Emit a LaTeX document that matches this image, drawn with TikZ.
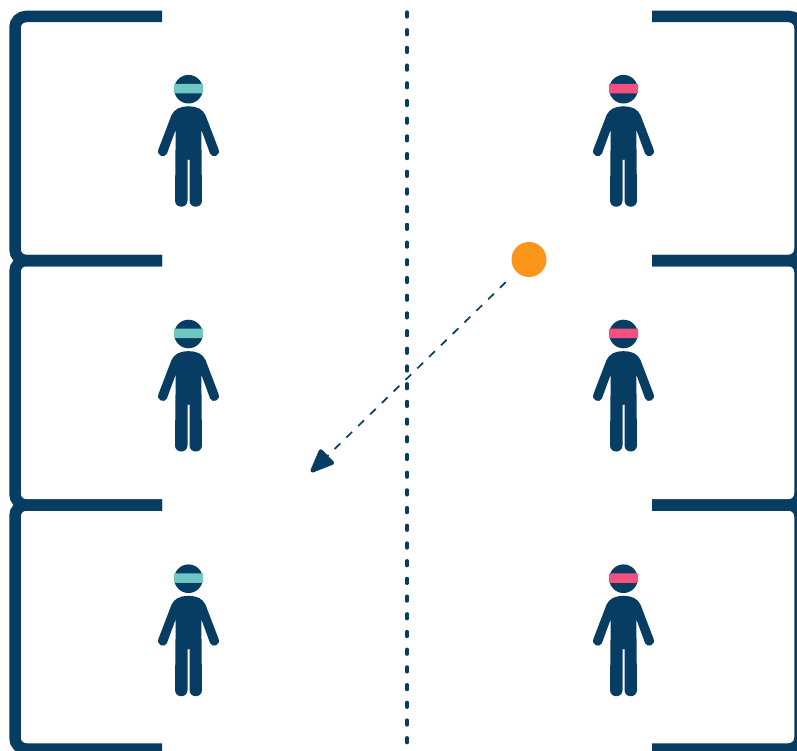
\documentclass[tikz,border=0pt]{standalone}
\usetikzlibrary{arrows.meta}
\definecolor{navy}{HTML}{083D63}
\definecolor{teal}{HTML}{6FC7C4}
\definecolor{pinkband}{HTML}{F4507F}
\definecolor{dotorange}{HTML}{FB961A}
\tikzset{
  wall/.style={draw=navy,line width=11.5pt,rounded corners=11pt,line cap=butt},
  divider/.style={draw=navy,line width=3.2pt,line cap=round,dash pattern=on 5pt off 12.7pt},
  ball/.style={circle,fill=dotorange,minimum size=35pt,inner sep=0pt,outer sep=0pt},
  path arrow/.style={draw=navy,line width=1.7pt,dash pattern=on 8pt off 8.5pt,shorten <=15pt,
    -{Triangle[length=27pt,width=21pt,round,line width=4pt,fill=navy,sep=0pt]}},
  person/.pic={
    \fill[navy] (0,0) circle[radius=14.3];
    \foreach \s in {1,-1}{
      \fill[navy,xscale=\s] (0.4,17.2) -- (0,17.2) .. controls (-9,17.2) and (-14,20) .. (-17,26)
        -- (-30,60) .. controls (-32.5,66.5) and (-24,69.5) .. (-21.6,64.5)
        -- (-12.8,40.5) -- (-13.5,111.25)
        .. controls (-13.5,119.6) and (-1,119.6) .. (-1,111.25)
        -- (-1,70.5) -- (0.4,70.5) -- cycle;
    }
    \fill[#1,rounded corners=0.8pt] (-14.5,-5.3) rectangle (14.5,4.2);
  }
}
\begin{document}
\begin{tikzpicture}[x=1pt,y=-1pt]
\useasboundingbox (0,0) rectangle (797,751);
\clip (0,0) rectangle (797,751);
\fill[white] (0,0) rectangle (797,751);
% rooms
\coordinate (t0) at (0,16.5);
\foreach \a/\b in {16.5/260.5,260.5/505,505/749}{
  \draw[wall] (162,\a) -- (15,\a) -- (15,\b) -- (162,\b);
  \draw[wall] (652,\a) -- (800,\a) -- (800,\b) -- (652,\b);
}
% divider
\coordinate (divtop) at (407,12);
\coordinate (divbot) at (407,751);
\draw[divider] (divtop) -- (divbot);
% people
\foreach \n/\y in {a/89.2,b/334,c/578.7}{
  \pic (l\n) at (188.5,\y) {person=teal};
  \pic (r\n) at (623.5,\y) {person=pinkband};
}
% ball and path
\node[ball] (ball) at (529,259.5) {};
\coordinate (target) at (311,472);
\draw[path arrow] (ball) -- (target);
\end{tikzpicture}
\end{document}
